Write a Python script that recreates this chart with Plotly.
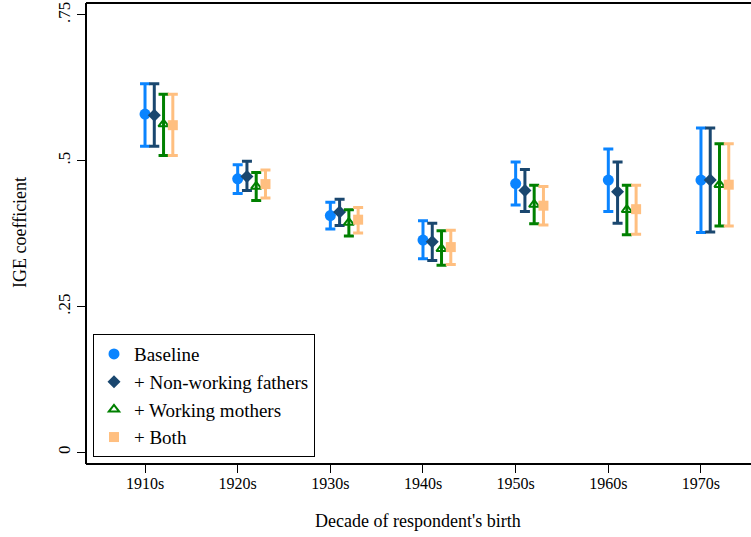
import plotly.graph_objects as go

decades = ["1910s", "1920s", "1930s", "1940s", "1950s", "1960s", "1970s"]
series_names = ["Baseline", "+ Non-working fathers", "+ Working mothers", "+ Both"]

baseline_est = [0.580, 0.469, 0.406, 0.364, 0.461, 0.467, 0.467]
baseline_lo = [0.525, 0.444, 0.383, 0.332, 0.424, 0.413, 0.377]
baseline_hi = [0.632, 0.493, 0.429, 0.397, 0.498, 0.520, 0.556]

nonwork_est = [0.578, 0.473, 0.412, 0.361, 0.449, 0.447, 0.467]
nonwork_lo = [0.525, 0.449, 0.389, 0.329, 0.413, 0.393, 0.378]
nonwork_hi = [0.632, 0.499, 0.434, 0.393, 0.485, 0.498, 0.556]

workmom_est = [0.563, 0.456, 0.394, 0.349, 0.425, 0.416, 0.459]
workmom_lo = [0.509, 0.432, 0.371, 0.321, 0.392, 0.373, 0.388]
workmom_hi = [0.614, 0.480, 0.416, 0.380, 0.458, 0.458, 0.529]

both_est = [0.561, 0.460, 0.399, 0.352, 0.423, 0.417, 0.459]
both_lo = [0.509, 0.436, 0.376, 0.322, 0.390, 0.374, 0.388]
both_hi = [0.614, 0.484, 0.420, 0.381, 0.456, 0.458, 0.529]

ests = [baseline_est, nonwork_est, workmom_est, both_est]
los = [baseline_lo, nonwork_lo, workmom_lo, both_lo]
his = [baseline_hi, nonwork_hi, workmom_hi, both_hi]

colors = ["#0a84ff", "#1a476f", "#008000", "#ffbf80"]
symbols = ["circle", "diamond", "triangle-up-open", "square"]
sizes = [11, 10, 9, 10]
offsets = [0.0, 0.1, 0.2, 0.3]

FONT = "Times New Roman, Liberation Serif, serif"

fig = go.Figure()
for k in range(4):
    xs = [i + 1 + offsets[k] for i in range(len(decades))]
    fig.add_trace(go.Scatter(
        x=xs, y=ests[k], mode="markers", name=series_names[k],
        legendgroup=f"g{k}", hoverinfo="skip",
        marker=dict(symbol=symbols[k], size=sizes[k], color=colors[k],
                    line=dict(color=colors[k], width=2 if k == 2 else 0)),
        error_y=dict(type="data", symmetric=False,
                     array=[h - e for h, e in zip(his[k], ests[k])],
                     arrayminus=[e - l for e, l in zip(ests[k], los[k])],
                     color=colors[k], thickness=3, width=5),
    ))

frame = dict(color="black", width=2)
fig.update_layout(
    template="none",
    width=751, height=537,
    margin=dict(l=86, r=0, t=3, b=73),
    paper_bgcolor="white", plot_bgcolor="white",
    font=dict(family=FONT, size=16, color="black"),
    hovermode=False,
    showlegend=True,
    legend=dict(x=0.0105, y=0.015, xanchor="left", yanchor="bottom",
                bordercolor="black", borderwidth=1, bgcolor="white",
                font=dict(family=FONT, size=19), tracegroupgap=0,
                itemwidth=30),
    xaxis=dict(range=[0.363, 7.54], tickmode="array",
               tickvals=list(range(1, 8)), ticktext=decades,
               showline=False, mirror=False,
               ticks="outside", ticklen=8, tickwidth=1, tickcolor="black",
               ticklabelstandoff=-3,
               showgrid=False, zeroline=False, automargin=False,
               tickfont=dict(family=FONT, size=16)),
    yaxis=dict(range=[-0.0199, 0.7705], tickmode="array",
               tickvals=[0, 0.25, 0.5, 0.75], ticktext=["0", ".25", ".5", ".75"],
               tickangle=-90,
               showline=False, mirror=False,
               ticks="outside", ticklen=8, tickwidth=1, tickcolor="black",
               showgrid=False, zeroline=False, automargin=False,
               tickfont=dict(family=FONT, size=17)),
    shapes=[
        dict(type="line", xref="paper", yref="paper", x0=0, x1=1.01, y0=1, y1=1, line=frame),
        dict(type="line", xref="paper", yref="paper", x0=0, x1=1.01, y0=0, y1=0, line=frame),
        dict(type="line", xref="paper", yref="paper", x0=0, x1=0, y0=0, y1=1, line=frame),
    ],
    annotations=[
        dict(text="Decade of respondent's birth", xref="paper", yref="paper",
             x=(418 - 86) / 665, y=-(521 - 464) / 461,
             xanchor="center", yanchor="middle", showarrow=False,
             font=dict(family=FONT, size=18)),
        dict(text="IGE coefficient", xref="paper", yref="paper",
             x=-(86 - 20) / 665, y=(464 - 233) / 461, textangle=-90,
             xanchor="center", yanchor="middle", showarrow=False,
             font=dict(family=FONT, size=18)),
    ],
)

fig.write_html("out.html", config={"displayModeBar": False, "staticPlot": True},
               post_script="document.body.style.margin='0';"
                           "document.body.style.overflow='hidden';"
                           "document.documentElement.style.overflow='hidden';")
